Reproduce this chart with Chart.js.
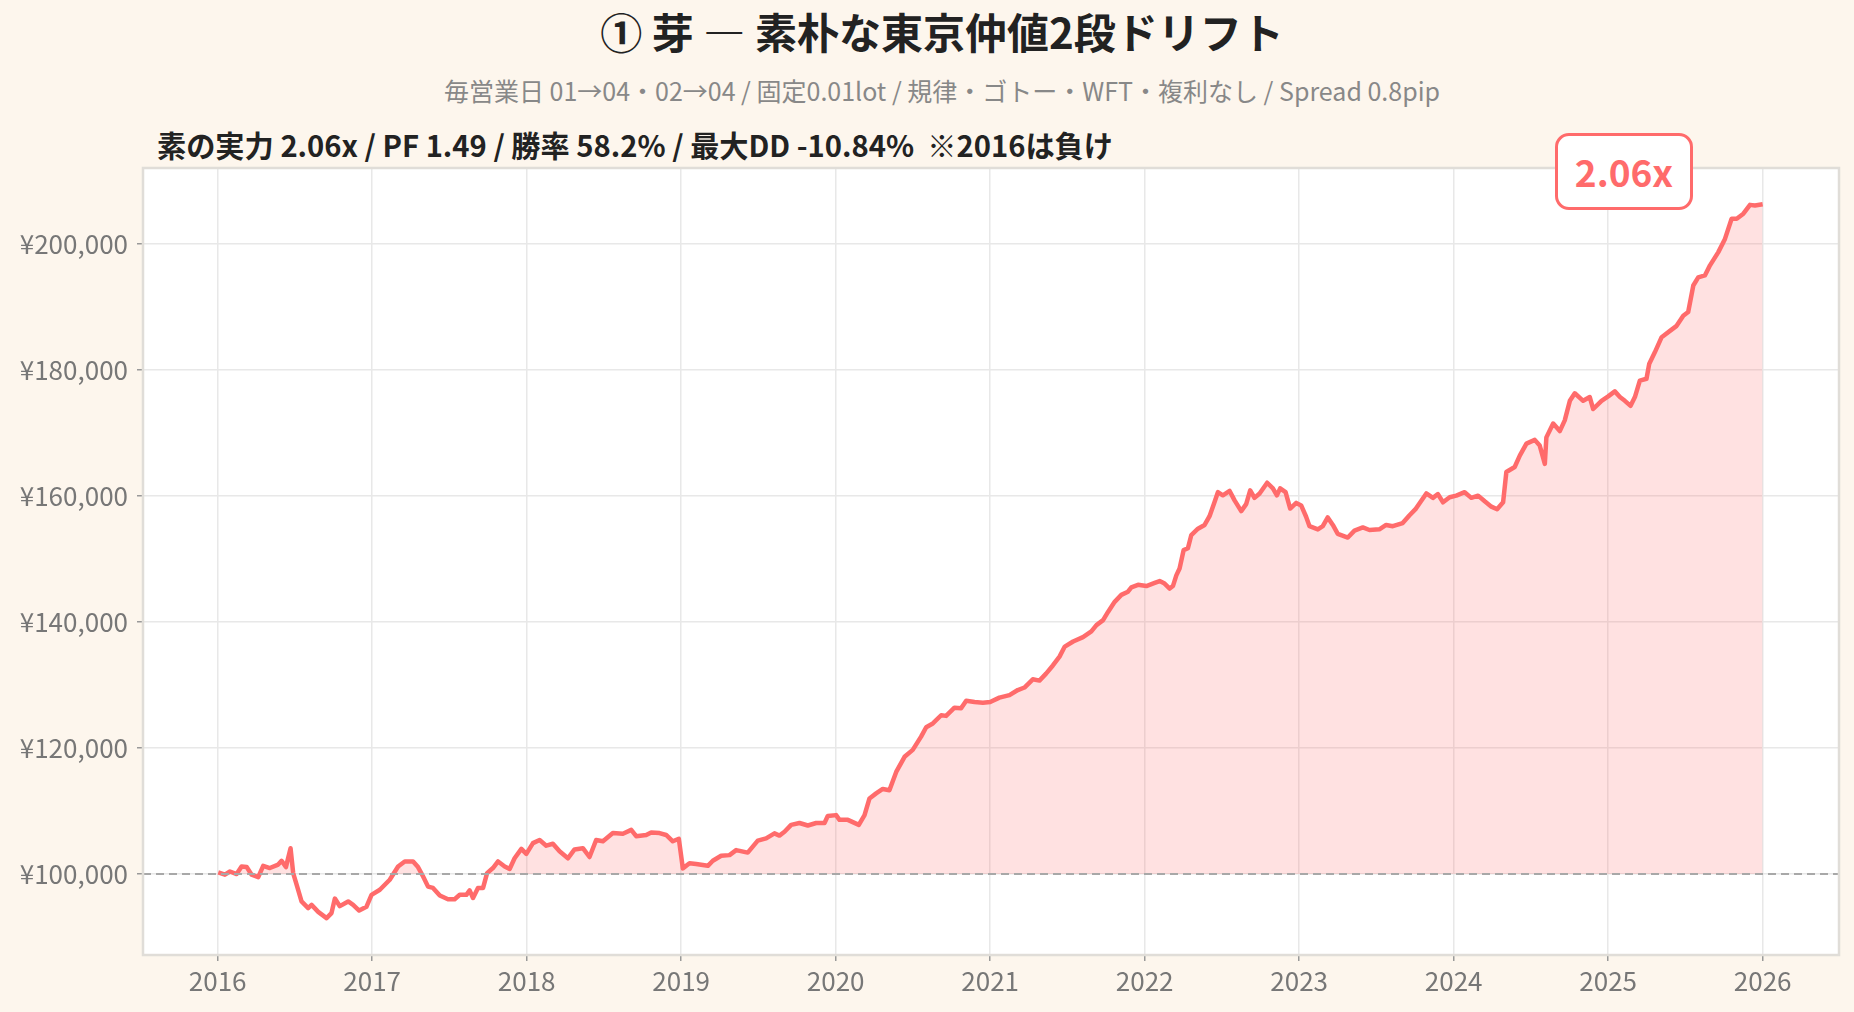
<!DOCTYPE html>
<html lang="ja">
<head>
<meta charset="utf-8">
<title>① 芽 — 素朴な東京仲値2段ドリフト</title>
<script src="https://cdn.jsdelivr.net/npm/chart.js@4.4.1/dist/chart.umd.min.js"></script>
<style>
  html, body { margin: 0; padding: 0; background: #fdf6ed; }
  body { width: 1854px; height: 1012px; position: relative; overflow: hidden;
         font-family: "Noto Sans CJK JP", "Noto Sans", sans-serif; }
  .title { position: absolute; left: 0; width: 1884px; top: 6px; text-align: center;
           font-size: 42px; font-weight: 700; color: #222; line-height: 50px; }
  .subtitle { position: absolute; left: 0; width: 1884px; top: 73px; text-align: center;
              font-size: 25px; color: #888; line-height: 34px; }
  .stats { position: absolute; left: 157px; top: 124px; font-size: 29.2px; font-weight: 700;
           color: #222; line-height: 40px; white-space: pre; }
  .wrap { position: absolute; left: 0; top: 150px; width: 1854px; height: 862px; }
  .badge { position: absolute; left: 1555px; top: 133px; width: 132px; height: 71px;
           border: 3px solid #ff6b6b; border-radius: 14px; background: #fff;
           color: #ff6b6b; font-size: 37px; font-weight: 700; text-align: center;
           line-height: 70px; }
</style>
</head>
<body>
<div class="title">① 芽 — 素朴な東京仲値2段ドリフト</div>
<div class="subtitle">毎営業日 01→04・02→04 / 固定0.01lot / 規律・ゴトー・WFT・複利なし / Spread 0.8pip</div>
<div class="stats">素の実力 2.06x / PF 1.49 / 勝率 58.2% / 最大DD -10.84%  ※2016は負け</div>
<div class="wrap"><canvas id="equity"></canvas></div>
<div class="badge" id="badge"></div>
<script>
// equity curve (x = decimal year, y = yen)
const years = [
  2016.004, 2016.047, 2016.080, 2016.123, 2016.155, 2016.188, 2016.220, 2016.263, 2016.295, 2016.338,
  2016.392, 2016.414, 2016.442, 2016.472, 2016.489, 2016.515, 2016.543, 2016.586, 2016.608, 2016.651,
  2016.705, 2016.737, 2016.759, 2016.791, 2016.845, 2016.877, 2016.916, 2016.963, 2016.996, 2017.050,
  2017.114, 2017.168, 2017.211, 2017.265, 2017.297, 2017.330, 2017.362, 2017.394, 2017.438, 2017.491,
  2017.534, 2017.567, 2017.610, 2017.631, 2017.653, 2017.685, 2017.718, 2017.744, 2017.782, 2017.815,
  2017.858, 2017.890, 2017.922, 2017.966, 2017.998, 2018.041, 2018.084, 2018.127, 2018.170, 2018.213,
  2018.267, 2018.310, 2018.364, 2018.407, 2018.450, 2018.494, 2018.558, 2018.623, 2018.677, 2018.709,
  2018.774, 2018.806, 2018.860, 2018.903, 2018.946, 2018.985, 2019.011, 2019.054, 2019.097, 2019.173,
  2019.205, 2019.259, 2019.313, 2019.356, 2019.431, 2019.496, 2019.550, 2019.604, 2019.636, 2019.669,
  2019.712, 2019.766, 2019.820, 2019.874, 2019.928, 2019.949, 2020.003, 2020.025, 2020.079, 2020.150,
  2020.187, 2020.219, 2020.262, 2020.305, 2020.348, 2020.392, 2020.446, 2020.499, 2020.553, 2020.586,
  2020.629, 2020.683, 2020.715, 2020.769, 2020.812, 2020.845, 2020.899, 2020.953, 2021.000, 2021.060,
  2021.125, 2021.179, 2021.222, 2021.276, 2021.319, 2021.362, 2021.406, 2021.449, 2021.483, 2021.537,
  2021.601, 2021.655, 2021.688, 2021.731, 2021.763, 2021.806, 2021.849, 2021.892, 2021.914, 2021.957,
  2022.011, 2022.065, 2022.097, 2022.129, 2022.162, 2022.183, 2022.205, 2022.226, 2022.252, 2022.280,
  2022.302, 2022.345, 2022.388, 2022.420, 2022.453, 2022.474, 2022.506, 2022.550, 2022.582, 2022.625,
  2022.657, 2022.683, 2022.711, 2022.744, 2022.793, 2022.830, 2022.856, 2022.877, 2022.912, 2022.942,
  2022.981, 2023.013, 2023.045, 2023.067, 2023.121, 2023.153, 2023.185, 2023.218, 2023.250, 2023.315,
  2023.358, 2023.412, 2023.455, 2023.519, 2023.563, 2023.606, 2023.670, 2023.713, 2023.756, 2023.823,
  2023.866, 2023.898, 2023.931, 2023.974, 2024.017, 2024.071, 2024.114, 2024.158, 2024.201, 2024.244,
  2024.281, 2024.320, 2024.341, 2024.395, 2024.428, 2024.471, 2024.525, 2024.557, 2024.590, 2024.600,
  2024.644, 2024.687, 2024.719, 2024.752, 2024.784, 2024.838, 2024.881, 2024.903, 2024.957, 2025.000,
  2025.043, 2025.076, 2025.108, 2025.145, 2025.173, 2025.205, 2025.248, 2025.266, 2025.302, 2025.346,
  2025.400, 2025.443, 2025.486, 2025.518, 2025.551, 2025.583, 2025.626, 2025.659, 2025.713, 2025.756,
  2025.799, 2025.832, 2025.875, 2025.918, 2025.950, 2026.000
];
const equity = [
  100260, 99900, 100400, 100000, 101200, 101100, 99900, 99500, 101300, 100950,
  101500, 102100, 101100, 104100, 100150, 98000, 95650, 94600, 95100, 94000,
  93000, 93800, 96100, 94900, 95650, 95100, 94200, 94800, 96700, 97500,
  99100, 101200, 102000, 102000, 101100, 99600, 98000, 97800, 96600, 96000,
  96000, 96700, 96700, 97400, 96200, 97800, 97800, 100150, 100950, 102000,
  101200, 100800, 102500, 104000, 103200, 104900, 105400, 104500, 104800, 103600,
  102500, 103900, 104100, 102700, 105400, 105200, 106500, 106400, 107000, 106000,
  106200, 106600, 106500, 106200, 105200, 105600, 100900, 101700, 101600, 101300,
  102100, 102900, 103000, 103800, 103400, 105300, 105650, 106450, 106100, 106700,
  107800, 108100, 107700, 108100, 108100, 109200, 109350, 108600, 108600, 107800,
  109350, 112000, 112800, 113500, 113300, 116200, 118600, 119700, 121800, 123300,
  123900, 125200, 125100, 126400, 126300, 127500, 127300, 127200, 127300, 128000,
  128400, 129200, 129600, 130900, 130700, 131800, 133100, 134500, 136100, 136900,
  137600, 138500, 139500, 140300, 141600, 143200, 144300, 144800, 145500, 145900,
  145700, 146200, 146500, 146100, 145300, 145700, 147400, 148500, 151400, 151700,
  153800, 154800, 155400, 156800, 159100, 160600, 160100, 160800, 159300, 157600,
  158700, 160900, 159700, 160400, 162100, 161200, 160100, 161200, 160600, 158000,
  158900, 158500, 156700, 155200, 154700, 155200, 156600, 155400, 154000, 153400,
  154500, 155000, 154600, 154700, 155400, 155200, 155700, 156900, 158000, 160400,
  159700, 160300, 159000, 159800, 160050, 160600, 159700, 160050, 159150, 158300,
  157900, 159000, 163800, 164600, 166400, 168300, 168900, 168000, 165100, 169300,
  171500, 170300, 172000, 175100, 176300, 175100, 175700, 173800, 175100, 175800,
  176600, 175700, 175100, 174300, 175700, 178300, 178600, 181000, 182800, 185200,
  186200, 187000, 188600, 189200, 193400, 194700, 195000, 196600, 198700, 200800,
  204000, 204000, 204800, 206200, 206100, 206300
];
const startCapital = 100000;
const finalMultiple = '2.06x';
const xTicks = [2016, 2017, 2018, 2019, 2020, 2021, 2022, 2023, 2024, 2025, 2026];
const yTicks = [100000, 120000, 140000, 160000, 180000, 200000];

document.getElementById('badge').textContent = finalMultiple;

const lineColor = '#ff6b6b';
const fillColor = 'rgba(255, 107, 107, 0.2)';

// frame round the plot + dashed start-capital line
const framePlugin = {
  id: 'frame',
  afterDatasetsDraw(chart) {
    const { ctx, chartArea: a, scales } = chart;
    const y0 = scales.y.getPixelForValue(startCapital);
    ctx.save();
    ctx.strokeStyle = '#a8a8a8';
    ctx.lineWidth = 2;
    ctx.setLineDash([8, 5]);
    ctx.beginPath();
    ctx.moveTo(a.left, y0);
    ctx.lineTo(a.right, y0);
    ctx.stroke();
    ctx.setLineDash([]);
    ctx.strokeStyle = '#e0ddd8';
    ctx.lineWidth = 2.5;
    ctx.strokeRect(a.left, a.top, a.right - a.left, a.bottom - a.top);
    ctx.restore();
  }
};

const plotBg = {
  id: 'plotBg',
  beforeDraw(chart) {
    const { ctx, chartArea: a } = chart;
    ctx.save();
    ctx.fillStyle = '#ffffff';
    ctx.fillRect(a.left, a.top, a.right - a.left, a.bottom - a.top);
    ctx.restore();
  }
};

const tickFont = { family: '"Noto Sans CJK JP", "Noto Sans", sans-serif', size: 26 };

new Chart(document.getElementById('equity'), {
  type: 'line',
  data: {
    datasets: [{
      data: years.map((x, i) => ({ x: x, y: equity[i] })),
      borderColor: lineColor,
      borderWidth: 4.5,
      borderJoinStyle: 'round',
      pointRadius: 0,
      tension: 0,
      fill: { target: { value: startCapital }, above: fillColor, below: 'rgba(0,0,0,0)' }
    }]
  },
  options: {
    responsive: true,
    maintainAspectRatio: false,
    animation: false,
    layout: { padding: { top: 18, right: 15, bottom: 0, left: 0 } },
    plugins: { legend: { display: false }, tooltip: { enabled: false } },
    scales: {
      x: {
        type: 'linear',
        min: 2015.517,
        max: 2026.494,
        afterBuildTicks: s => { s.ticks = xTicks.map(v => ({ value: v })); },
        afterFit: s => { s.height = 57; s.paddingLeft = 0; s.paddingRight = 0; },
        ticks: { color: '#777', font: tickFont, padding: 5, maxRotation: 0,
                 callback: v => String(v) },
        grid: { color: '#e8e8e8', lineWidth: 1.5, tickColor: '#999', tickLength: 6 },
        border: { display: false }
      },
      y: {
        min: 87150,
        max: 212050,
        afterBuildTicks: s => { s.ticks = yTicks.map(v => ({ value: v })); },
        afterFit: s => { s.width = 143; s.paddingTop = 0; s.paddingBottom = 0; },
        ticks: { color: '#777', font: tickFont, padding: 9,
                 callback: v => '¥' + v.toLocaleString('en-US') },
        grid: { color: '#e8e8e8', lineWidth: 1.5, tickColor: '#999', tickLength: 6 },
        border: { display: false }
      }
    }
  },
  plugins: [plotBg, framePlugin]
});
</script>
</body>
</html>
